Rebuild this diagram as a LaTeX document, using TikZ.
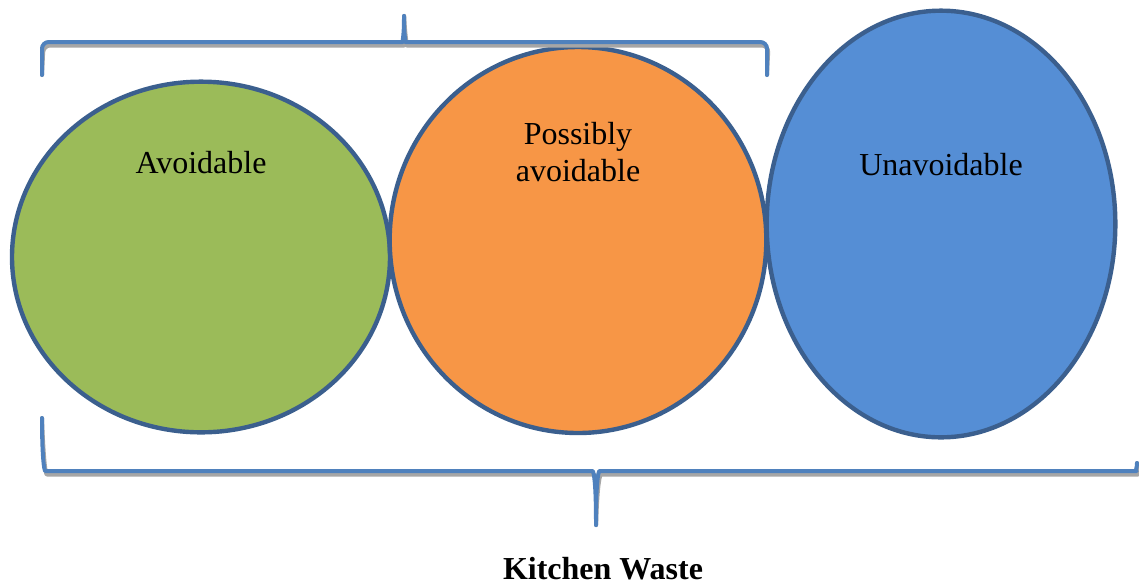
\documentclass[tikz,border=0pt]{standalone}
\usepackage{fontspec}
\setmainfont{Liberation Serif}
\usetikzlibrary{shapes.geometric}
\definecolor{rimblue}{HTML}{3B5F8E}
\definecolor{avoidgreen}{HTML}{9BBB59}
\definecolor{possorange}{HTML}{F79646}
\definecolor{unavblue}{HTML}{558ED5}
\definecolor{braceblue}{HTML}{4F81BD}
\definecolor{braceshade}{HTML}{A6A6A6}
\tikzset{
  wastepart/.style={ellipse,draw=rimblue,line width=3.3pt,inner sep=0pt},
  partlabel/.style={align=center,font=\fontsize{24}{28}\selectfont},
  bracket/.style={line width=3pt,line cap=round,line join=round,rounded corners=5pt}
}
\begin{document}
\begin{tikzpicture}[x=0.75pt,y=-0.75pt]
\useasboundingbox (0,0) rectangle (1139,587);
% the three parts
\node[wastepart,fill=avoidgreen,minimum width=283.5pt,minimum height=263pt] (avoid) at (201,257) {};
\node[wastepart,fill=possorange,minimum width=282.5pt,minimum height=289.5pt] (possible) at (578,240) {};
\node[wastepart,fill=unavblue,minimum width=261.5pt,minimum height=320pt] (unavoid) at (941,224) {};
\node[partlabel] (avoidtext) at (201,163) {Avoidable};
\node[partlabel] (possibletext) at (578,152) {Possibly\\avoidable};
\node[partlabel] (unavoidtext) at (941,165) {Unavoidable};
% brace ends
\coordinate (topL) at (42,75); \coordinate (topR) at (767,75); \coordinate (topTip) at (404,12);
\coordinate (botL) at (42,418); \coordinate (botR) at (1137,463); \coordinate (botTip) at (596,529);
\foreach \c/\dx/\dy in {braceshade/1.5/3.5,braceblue/0/0}
{\draw[bracket,draw=\c,shift={(\dx,\dy)}] (topL)--(42,42)--(396,42)
  .. controls (402,42) and (404,38) .. (topTip)
  .. controls (404,38) and (406,42) .. (412,42)--(767,42)--(topR);
 \draw[bracket,draw=\c,shift={(\dx,\dy)}] (botL) .. controls (42,455) and (44,471) .. (52,471)--(586,471)
  .. controls (593,471) and (596,476) .. (botTip)
  .. controls (596,476) and (599,471) .. (606,471)--(1130,471) .. controls (1135,471) and (1137,468) .. (botR);}
\node[font=\fontsize{24}{28}\selectfont\bfseries] (kitchen) at (603,569) {Kitchen Waste};
\end{tikzpicture}
\end{document}
